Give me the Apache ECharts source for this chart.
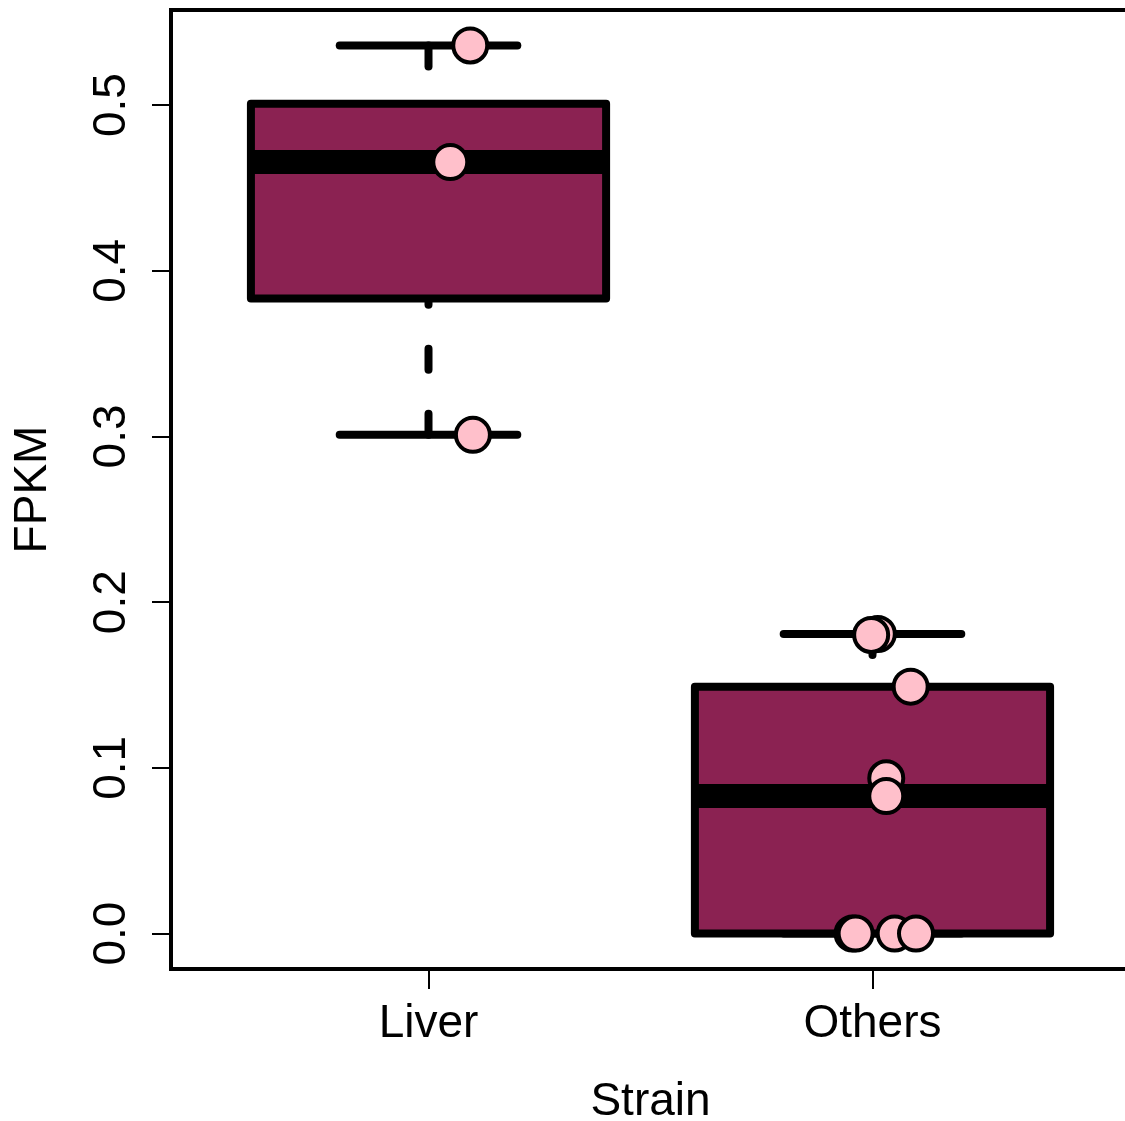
<!DOCTYPE html>
<html>
<head>
<meta charset="utf-8">
<script src="https://cdn.jsdelivr.net/npm/echarts@6/dist/echarts.min.js"></script>
<style>
html,body{margin:0;padding:0;background:#fff;overflow:hidden;}
#chart{width:1125px;height:1121px;}
</style>
</head>
<body>
<div id="chart"></div>
<script>
// ---- data ----
const categories = ['Liver', 'Others'];
const liverValues = [0.536, 0.4656, 0.301];
const liverJitter = [0.094, 0.049, 0.100];
const othersValues = [0.1808, 0.1802, 0.149, 0.0937, 0.083, 0, 0, 0, 0];
const othersJitter = [0.012, -0.003, 0.086, 0.031, 0.031, -0.045, -0.038, 0.050, 0.098];
const yTicks = [0, 0.1, 0.2, 0.3, 0.4, 0.5];
const yMin = -0.0214, yMax = 0.5574;

// Tukey five-number summary (like R's fivenum)
function fivenum(arr) {
  const x = arr.slice().sort((a, b) => a - b);
  const n = x.length;
  const n4 = Math.floor((n + 3) / 2) / 2;
  const d = [1, n4, (n + 1) / 2, n + 1 - n4, n];
  return d.map(v => 0.5 * (x[Math.floor(v) - 1] + x[Math.ceil(v) - 1]));
}

const groups = [liverValues, othersValues];
const jitters = [liverJitter, othersJitter];
const boxData = groups.map((g, i) => [i + 1].concat(fivenum(g)));
const pointData = [];
groups.forEach((g, i) => g.forEach((v, j) => pointData.push([i + 1 + jitters[i][j], v])));

const FONT = "'Liberation Sans', Arial, Helvetica, sans-serif";
const chart = echarts.init(document.getElementById('chart'));

chart.setOption({
  animation: false,
  backgroundColor: '#fff',
  grid: { left: 171, top: 10, width: 959, height: 959, outerBoundsMode: 'none', containLabel: false,
    show: true, borderColor: '#000', borderWidth: 4, backgroundColor: 'transparent' },
  xAxis: {
    type: 'value', min: 0.42, max: 2.58,
    name: 'Strain', nameLocation: 'middle', nameGap: 110,
    nameTextStyle: { fontFamily: FONT, fontSize: 46, color: '#000' },
    axisLine: { show: false, onZero: false },
    splitLine: { show: false },
    axisTick: { show: true, length: 20, lineStyle: { color: '#000', width: 2 }, customValues: [1, 2] },
    axisLabel: { show: true, margin: 32, fontFamily: FONT, fontSize: 46, color: '#000', customValues: [1, 2],
      formatter: v => categories[Math.round(v) - 1] }
  },
  yAxis: {
    type: 'value', min: yMin, max: yMax,
    name: 'FPKM', nameLocation: 'middle', nameGap: 115,
    nameTextStyle: { fontFamily: FONT, fontSize: 46, color: '#000' },
    axisLine: { show: false, onZero: false },
    splitLine: { show: false },
    axisTick: { show: true, length: 19, lineStyle: { color: '#000', width: 2 }, customValues: yTicks },
    axisLabel: { show: true, rotate: 90, margin: 36, fontFamily: FONT, fontSize: 46, color: '#000', customValues: yTicks,
      formatter: v => v.toFixed(1) }
  },
  series: [
    {
      type: 'custom',
      data: boxData,
      encode: { x: 0, y: [1, 2, 3, 4, 5] },
      z: 2,
      renderItem: function (params, api) {
        const x = api.value(0);
        const mn = api.value(1), q1 = api.value(2), md = api.value(3), q3 = api.value(4), mx = api.value(5);
        const c = (a, b) => api.coord([a, b]);
        const children = [];
        const whisk = { stroke: '#000', lineWidth: 8, lineDash: [21, 44], lineCap: 'round' };
        const pushLine = (p1, p2, style) => {
          if (Math.abs(p1[0] - p2[0]) < 0.5 && Math.abs(p1[1] - p2[1]) < 0.5) return;
          children.push({ type: 'line', shape: { x1: p1[0], y1: p1[1], x2: p2[0], y2: p2[1] }, style: style });
        };
        pushLine(c(x, mx), c(x, q3), whisk);
        pushLine(c(x, mn), c(x, q1), whisk);
        const cap = { stroke: '#000', lineWidth: 8, lineCap: 'round' };
        pushLine(c(x - 0.2, mx), c(x + 0.2, mx), cap);
        pushLine(c(x - 0.2, mn), c(x + 0.2, mn), cap);
        const tl = c(x - 0.4, q3), br = c(x + 0.4, q1);
        children.push({ type: 'rect', shape: { x: tl[0], y: tl[1], width: br[0] - tl[0], height: br[1] - tl[1] },
          style: { fill: '#8B2252', stroke: '#000', lineWidth: 8, lineJoin: 'round' } });
        const m1 = c(x - 0.4, md), m2 = c(x + 0.4, md);
        children.push({ type: 'line', shape: { x1: m1[0], y1: m1[1], x2: m2[0], y2: m2[1] },
          style: { stroke: '#000', lineWidth: 24, lineCap: 'butt' } });
        return { type: 'group', children: children };
      }
    },
    {
      type: 'scatter',
      data: pointData,
      z: 3,
      symbol: 'circle',
      symbolSize: 34,
      itemStyle: { color: '#FFC0CB', borderColor: '#000', borderWidth: 4, opacity: 1 },
      emphasis: { disabled: true }
    }
  ]
});
</script>
</body>
</html>
